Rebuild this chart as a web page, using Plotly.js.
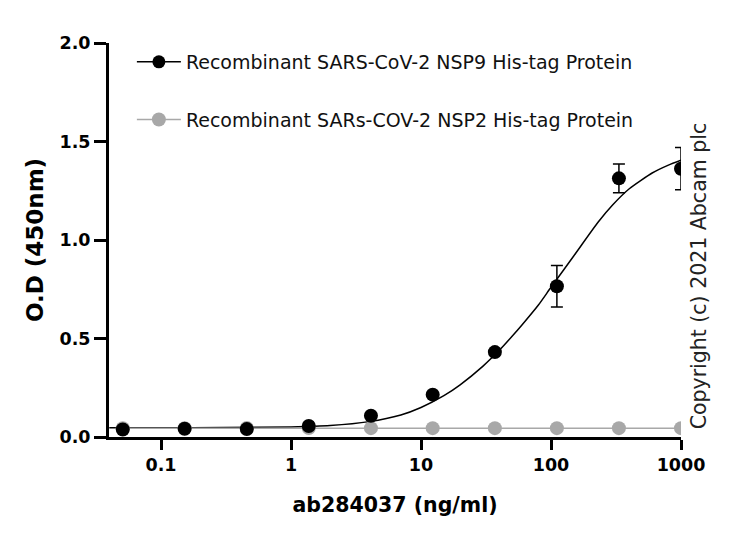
<!DOCTYPE html>
<html>
<head>
<meta charset="utf-8">
<script src="https://cdn.plot.ly/plotly-3.0.1.min.js"></script>
<style>html,body{margin:0;padding:0;background:#fff;}#chart{width:750px;height:545px;}</style>
</head>
<body>
<div id="chart"></div>
<script>
// Concentrations (ng/ml), 3-fold dilution series
const conc = [0.0508, 0.152, 0.457, 1.37, 4.12, 12.3, 37.0, 111, 333, 1000];
// NSP9 (target) O.D. readings and error
const nsp9 = [0.038, 0.042, 0.040, 0.056, 0.108, 0.215, 0.431, 0.765, 1.313, 1.362];
const nsp9Err = [0, 0, 0, 0, 0, 0, 0, 0.105, 0.073, 0.107];
// NSP2 (control) O.D. readings
const nsp2 = [0.045, 0.045, 0.046, 0.046, 0.045, 0.045, 0.045, 0.045, 0.045, 0.045];
// Fitted curve
const fitX = [0.04, 0.1, 0.3, 1, 2, 4, 7, 10, 15, 20, 30, 40, 50, 60, 80, 100, 150, 230, 300, 400, 600, 800, 1000];
const fitY = [0.047, 0.047, 0.048, 0.051, 0.058, 0.078, 0.112, 0.15, 0.21, 0.265, 0.36, 0.44, 0.51, 0.57, 0.67, 0.76, 0.92, 1.09, 1.18, 1.26, 1.34, 1.38, 1.405];
const xTicks = [0.1, 1, 10, 100, 1000];
const xTickText = ['0.1', '1', '10', '100', '1000'];
const names = ['Recombinant SARS-CoV-2 NSP9 His-tag Protein', 'Recombinant SARs-COV-2 NSP2 His-tag Protein'];

const F = 'DejaVu Sans, Verdana, sans-serif';
const grey = '#a8a8a8';

const traces = [
  {x: fitX, y: fitY, mode: 'lines', line: {color: '#000', width: 1.5, shape: 'spline', smoothing: 0.6}, showlegend: false, hoverinfo: 'skip'},
  {x: [null], y: [null], mode: 'lines+markers', name: names[0], line: {color: '#000', width: 1.5},
   marker: {color: '#000', size: 13}, legendgroup: 'a'},
  {x: conc, y: nsp2, mode: 'lines+markers', name: names[1], line: {color: grey, width: 1.5},
   marker: {color: grey, size: 14}, legendgroup: 'b'},
  {x: conc, y: nsp9, mode: 'markers', showlegend: false, marker: {color: '#000', size: 14},
   error_y: {type: 'data', array: nsp9Err, visible: true, color: '#000', thickness: 1.5, width: 6}}
];

const layout = {
  width: 750, height: 545,
  margin: {l: 109, r: 69, t: 43, b: 108},
  paper_bgcolor: '#fff', plot_bgcolor: '#fff',
  font: {family: F, color: '#000'},
  showlegend: true,
  legend: {x: 0.04, y: 1.0, xanchor: 'left', yanchor: 'top', bgcolor: 'rgba(0,0,0,0)',
    font: {family: F, size: 19, color: '#111'}, traceorder: 'grouped', tracegroupgap: 30, itemwidth: 44},
  xaxis: {type: 'log', range: [-1.4, 3], showgrid: false, zeroline: false,
    showline: true, linecolor: '#000', linewidth: 3,
    ticks: 'outside', ticklen: 10, tickwidth: 3, tickcolor: '#000',
    tickvals: xTicks, ticktext: xTickText,
    tickfont: {family: F, size: 17.5, color: '#000', weight: 'bold'},
    title: {text: '<b>ab284037 (ng/ml)</b>', font: {family: F, size: 20.5, color: '#000'}, standoff: 24}},
  yaxis: {range: [0, 2], showgrid: false, zeroline: false,
    showline: true, linecolor: '#000', linewidth: 3,
    ticks: 'outside', ticklen: 12, tickwidth: 3, tickcolor: '#000',
    dtick: 0.5, tickformat: '.1f',
    tickfont: {family: F, size: 17.5, color: '#000', weight: 'bold'},
    title: {text: '<b>O.D (450nm)</b>', font: {family: F, size: 23, color: '#000'}, standoff: 10}},
  annotations: [{
    text: 'Copyright (c) 2021 Abcam plc', xref: 'paper', yref: 'paper',
    x: 1.033, y: 0.41, xanchor: 'center', yanchor: 'middle', textangle: -90, showarrow: false,
    font: {family: F, size: 20.5, color: '#222'}
  }]
};

Plotly.newPlot('chart', traces, layout, {displayModeBar: false, staticPlot: true});
</script>
</body>
</html>
